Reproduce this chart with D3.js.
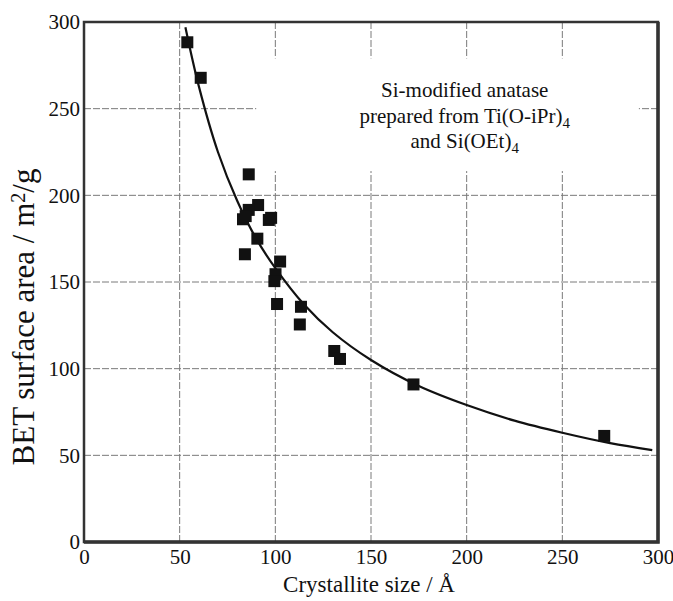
<!DOCTYPE html>
<html>
<head>
<meta charset="utf-8">
<script src="https://cdn.jsdelivr.net/npm/d3@7"></script>
<style>
  body { margin: 0; background: #fff; }
  text { font-family: "Liberation Serif", "Times New Roman", Times, "DejaVu Serif", serif; fill: #111; }
</style>
</head>
<body>
<div id="chart"></div>
<script>
// measured points: crystallite size (Å) vs BET surface area (m2/g)
const crystalSize = [54.0, 61.0, 86.1, 91.0, 86.1, 83.1, 84.5, 96.6, 97.8, 90.6, 84.1, 102.5, 100.1, 99.5, 100.9, 113.4, 112.8, 130.8, 133.8, 172.2, 271.9];
const surfaceArea = [288.3, 267.8, 212.1, 194.4, 191.6, 186.2, 188.0, 185.8, 187.0, 175.0, 166.0, 161.8, 154.5, 150.5, 137.3, 135.7, 125.5, 110.2, 105.6, 90.9, 61.2];

// fitted curve
const fitSize = [53, 60, 70, 80, 90, 100, 115, 130, 150, 175, 200, 225, 250, 275, 297];
const fitArea = [297, 263, 225, 197, 175, 158, 137, 121, 105, 90, 79, 70, 63, 57, 53];

const xTicks = [0, 50, 100, 150, 200, 250, 300];
const yTicks = [0, 50, 100, 150, 200, 250, 300];

const width = 673, height = 601;
const margin = { left: 84, right: 15, top: 22, bottom: 59 };
const serif = "'Liberation Serif', 'Times New Roman', Times, 'DejaVu Serif', serif";

const svg = d3.select("#chart").append("svg")
    .attr("width", width)
    .attr("height", height);

const x = d3.scaleLinear().domain([0, 300]).range([margin.left, width - margin.right]);
const y = d3.scaleLinear().domain([0, 300]).range([height - margin.bottom, margin.top]);

// grid
const grid = svg.append("g").attr("class", "grid");
grid.selectAll(".vgrid")
    .data(xTicks.slice(1, -1))
    .enter().append("line")
    .attr("x1", d => x(d)).attr("x2", d => x(d))
    .attr("y1", y(0)).attr("y2", y(300));
grid.selectAll(".hgrid")
    .data(yTicks.slice(1, -1))
    .enter().append("line")
    .attr("x1", x(0)).attr("x2", x(300))
    .attr("y1", d => y(d)).attr("y2", d => y(d));
grid.selectAll("line")
    .attr("stroke", "#7a7a7a")
    .attr("stroke-width", 1)
    .attr("stroke-dasharray", "7,2");

// the grid is blanked out around the note
svg.append("rect")
    .attr("x", x(90)).attr("y", y(279))
    .attr("width", x(290) - x(90))
    .attr("height", y(214) - y(279))
    .attr("fill", "#fff");

// fitted curve
const line = d3.line()
    .x((d, i) => x(fitSize[i]))
    .y((d, i) => y(fitArea[i]))
    .curve(d3.curveCatmullRom);
svg.append("path")
    .datum(fitSize)
    .attr("d", line)
    .attr("fill", "none")
    .attr("stroke", "#111")
    .attr("stroke-width", 2.2);

// data squares
const s = 12;
svg.selectAll(".pt")
    .data(crystalSize)
    .enter().append("rect")
    .attr("class", "pt")
    .attr("x", d => x(d) - s / 2)
    .attr("y", (d, i) => y(surfaceArea[i]) - s / 2)
    .attr("width", s).attr("height", s)
    .attr("fill", "#111");

// frame
svg.append("rect")
    .attr("x", x(0)).attr("y", y(300))
    .attr("width", x(300) - x(0))
    .attr("height", y(0) - y(300))
    .attr("fill", "none")
    .attr("stroke", "#333")
    .attr("stroke-width", 2.5);
svg.append("path")
    .attr("d", `M${x(0)},${y(0)}H${x(300)}V${y(300)}`)
    .attr("fill", "none")
    .attr("stroke", "#333")
    .attr("stroke-width", 3.5);

// axes (labels only)
const xAxis = svg.append("g")
    .attr("transform", `translate(0,${y(0)})`)
    .call(d3.axisBottom(x).tickValues(xTicks).tickSize(0).tickPadding(7));
const yAxis = svg.append("g")
    .attr("transform", `translate(${x(0)},0)`)
    .call(d3.axisLeft(y).tickValues(yTicks).tickSize(0).tickPadding(4));
[xAxis, yAxis].forEach(a => {
    a.attr("font-family", serif);
    a.select(".domain").remove();
    a.selectAll("text")
        .style("font-size", "21px")
        .attr("fill", "#111");
});

// axis titles
svg.append("text")
    .attr("x", (x(0) + x(300)) / 2 - 2)
    .attr("y", 592)
    .attr("text-anchor", "middle")
    .style("font-size", "23px")
    .text("Crystallite size / Å");

const yt = svg.append("text")
    .attr("transform", `translate(34,317) rotate(-90)`)
    .attr("text-anchor", "middle")
    .style("font-size", "31px");
yt.append("tspan").text("BET surface area / m");
yt.append("tspan").attr("dy", "-0.45em").style("font-size", "20px").text("2");
yt.append("tspan").attr("dy", "0.3em").text("/g");

// note
const noteX = x(199);
const note = svg.append("g").attr("text-anchor", "middle").style("font-size", "21px");
note.append("text").attr("x", noteX).attr("y", 97).text("Si-modified anatase");
const l2 = note.append("text").attr("x", noteX).attr("y", 123);
l2.append("tspan").text("prepared from Ti(O-iPr)");
l2.append("tspan").attr("dy", "0.35em").style("font-size", "15px").text("4");
const l3 = note.append("text").attr("x", noteX).attr("y", 148);
l3.append("tspan").text("and Si(OEt)");
l3.append("tspan").attr("dy", "0.35em").style("font-size", "15px").text("4");
</script>
</body>
</html>
